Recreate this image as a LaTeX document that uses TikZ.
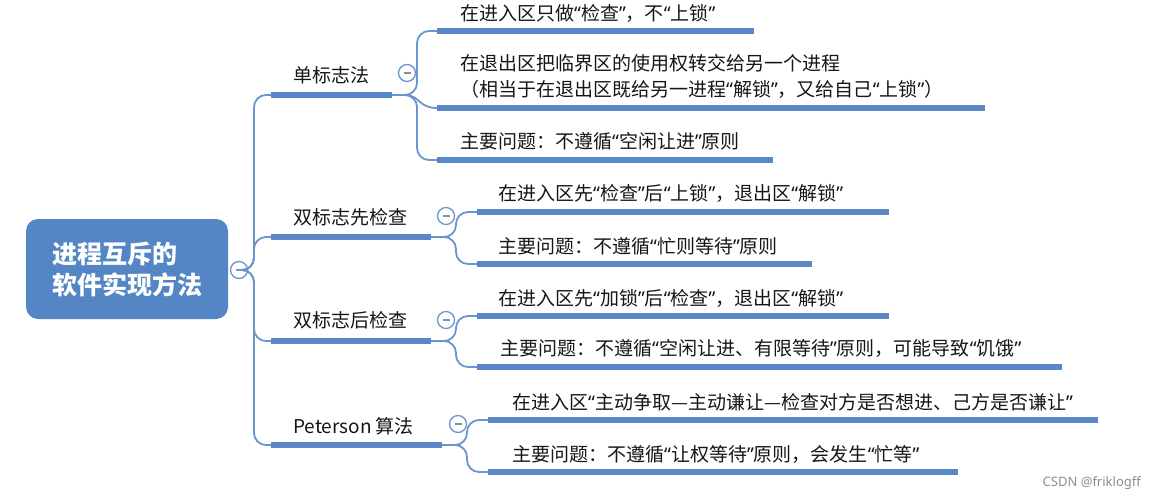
\documentclass[tikz,border=0pt]{standalone}
\usepackage{fontspec}
\setmainfont{Noto Sans CJK SC}
\newfontfamily\qf{Noto Sans}
\newcommand{\oq}{{\qf “}}
\newcommand{\cq}{{\qf ”}}
\definecolor{barblue}{HTML}{5A87C6}
\definecolor{lineblue}{HTML}{6A95CD}
\definecolor{rootblue}{HTML}{5486C6}
\definecolor{txt}{HTML}{161616}
\definecolor{minus}{HTML}{8090B5}
\tikzset{
  topic/.style={anchor=west, inner sep=0pt, text=txt, font=\fontsize{19}{26}\selectfont, align=left},
  bar/.style={draw=barblue, line width=5.4pt},
  link/.style={draw=lineblue, line width=1.8pt, rounded corners=12pt},
  softlink/.style={draw=lineblue, line width=1.8pt},
  fold/.style={circle, draw=lineblue, line width=1.3pt, fill=white, minimum size=17pt, inner sep=0pt,
    path picture={\draw[minus, line width=1.2pt] ([xshift=-3.5pt]path picture bounding box.center) -- ([xshift=3.5pt]path picture bounding box.center);}},
  rootbox/.style={rectangle, rounded corners=12pt, fill=rootblue, text=white, minimum width=202pt, minimum height=100pt,
    inner sep=0pt, font=\fontsize{25}{30}\selectfont\bfseries}
}
\begin{document}
\begin{tikzpicture}[x=1pt, y=-1pt]
\useasboundingbox (0,0) rectangle (1156,500);

% root
\node[rootbox] (root) at (127,269) {\begin{tabular}{@{}l@{}}\rule{0pt}{29pt}进程互斥的\\软件实现方法\end{tabular}};
\node[fold] (f0) at (239,270) {};

% level-1 bars
\coordinate (b1L) at (271,95);  \coordinate (b1R) at (392,95);
\coordinate (b2L) at (271,237); \coordinate (b2R) at (431,237);
\coordinate (b3L) at (271,341); \coordinate (b3R) at (431,341);
\coordinate (b4L) at (271,445); \coordinate (b4R) at (442,445);

\draw[link] (f0.east) -- (254,270) -- (254,95) -- (b1L);
\draw[link] (f0.east) -- (254,270) -- (254,237) -- (b2L);
\draw[link] (f0.east) -- (254,270) -- (254,341) -- (b3L);
\draw[link] (f0.east) -- (254,270) -- (254,445) -- (b4L);

\node[topic] (t1) at (293,75) {单标志法};
\node[topic] (t2) at (293,217) {双标志先检查};
\node[topic] (t3) at (293,320) {双标志后检查};
\node[topic] (t4) at (293,426) {Peterson 算法};

\node[fold] (f1) at (407,73) {};
\node[fold] (f2) at (446,216) {};
\node[fold] (f3) at (446,320) {};
\node[fold] (f4) at (458,424) {};

% level-2 bar ends
\coordinate (c1aL) at (437,31);  \coordinate (c1aR) at (754,31);
\coordinate (c1bL) at (437,108); \coordinate (c1bR) at (985,108);
\coordinate (c1cL) at (437,160); \coordinate (c1cR) at (773,160);
\coordinate (c2aL) at (477,212); \coordinate (c2aR) at (889,212);
\coordinate (c2bL) at (477,264); \coordinate (c2bR) at (812,264);
\coordinate (c3aL) at (477,316); \coordinate (c3aR) at (889,316);
\coordinate (c3bL) at (477,367); \coordinate (c3bR) at (1062,367);
\coordinate (c4aL) at (488,420); \coordinate (c4aR) at (1098,420);
\coordinate (c4bL) at (488,472); \coordinate (c4bR) at (958,472);

% connectors
\draw[link] (b1R) -- (417,95) -- (417,31) -- (c1aL);
\draw[softlink] (b1R) -- (405,95) .. controls (420,95) and (418,108) .. (c1bL);
\draw[link] (b1R) -- (417,95) -- (417,160) -- (c1cL);
\draw[link] (b2R) -- (456,237) -- (456,212) -- (c2aL);
\draw[link] (b2R) -- (456,237) -- (456,264) -- (c2bL);
\draw[link] (b3R) -- (456,341) -- (456,316) -- (c3aL);
\draw[link] (b3R) -- (456,341) -- (456,367) -- (c3bL);
\draw[link] (b4R) -- (467,445) -- (467,420) -- (c4aL);
\draw[link] (b4R) -- (467,445) -- (467,472) -- (c4bL);

% bars
\foreach \a/\b in {b1L/b1R,b2L/b2R,b3L/b3R,b4L/b4R,c1aL/c1aR,c1bL/c1bR,c1cL/c1cR,c2aL/c2aR,c2bL/c2bR,c3aL/c3aR,c3bL/c3bR,c4aL/c4aR,c4bL/c4bR}
  \draw[bar] (\a) -- (\b);

% level-2 texts
\node[topic] (s1a) at (460,13) {在进入区只做\oq 检查\cq ，不\oq 上锁\cq};
\node[topic] (s1b) at (460,76) {在退出区把临界区的使用权转交给另一个进程\\（相当于在退出区既给另一进程\oq 解锁\cq ，又给自己\oq 上锁\cq ）};
\node[topic] (s1c) at (460,141) {主要问题：不遵循\oq 空闲让进\cq 原则};
\node[topic] (s2a) at (498,193) {在进入区先\oq 检查\cq 后\oq 上锁\cq ，退出区\oq 解锁\cq};
\node[topic] (s2b) at (498,246) {主要问题：不遵循\oq 忙则等待\cq 原则};
\node[topic] (s3a) at (498,298) {在进入区先\oq 加锁\cq 后\oq 检查\cq ，退出区\oq 解锁\cq};
\node[topic] (s3b) at (500,348) {主要问题：不遵循\oq 空闲让进、有限等待\cq 原则，可能导致\oq 饥饿\cq};
\node[topic] (s4a) at (512,402) {在进入区\oq 主动争取—主动谦让—检查对方是否想进、己方是否谦让\cq};
\node[topic] (s4b) at (512,454) {主要问题：不遵循\oq 让权等待\cq 原则，会发生\oq 忙等\cq};

% watermark
\node[anchor=east, inner sep=0pt, text=black!45, font=\qf\fontsize{13}{15}\selectfont] (wm) at (1141,483) {CSDN @friklogff};
\end{tikzpicture}
\end{document}
